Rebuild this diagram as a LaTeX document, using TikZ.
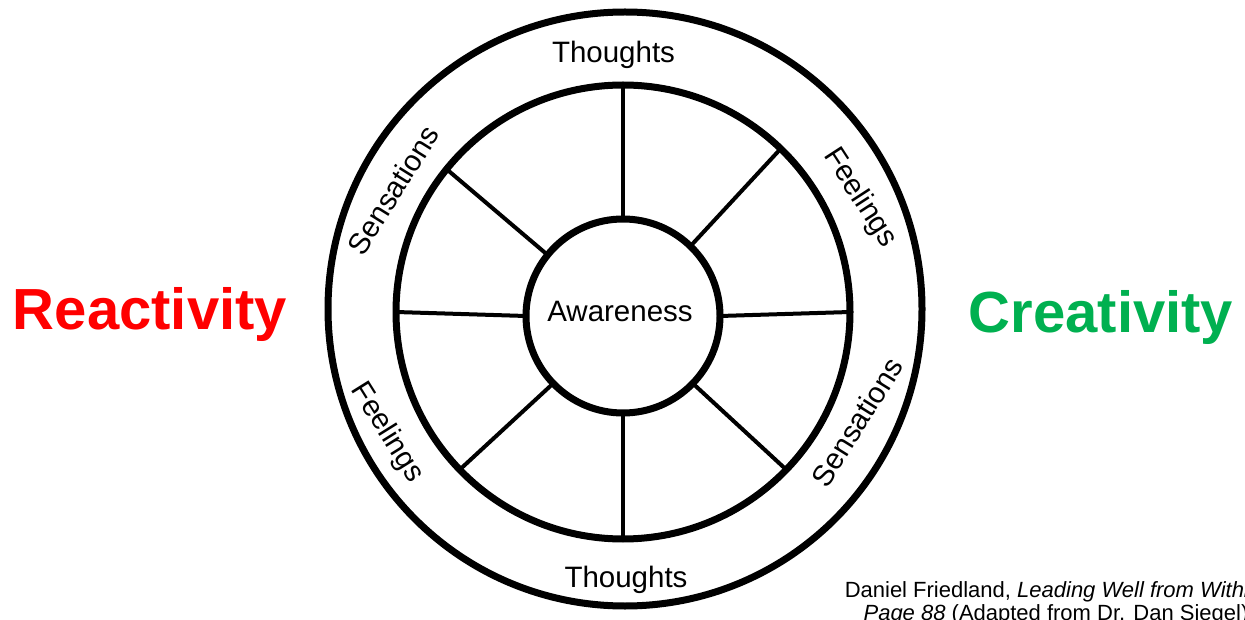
\documentclass[tikz,border=0pt]{standalone}
\usepackage{fontspec}
\setmainfont{Liberation Sans}
\definecolor{react}{HTML}{FF0000}
\definecolor{creat}{HTML}{00B050}
\begin{document}
\begin{tikzpicture}[x=1pt,y=-1pt,
 ring/.style={circle,draw,line width=7pt,inner sep=0pt,outer sep=0pt},
 spoke/.style={line width=4pt},
 lbl/.style={font=\fontsize{29.5}{32}\selectfont,inner sep=0pt},
 big/.style={font=\fontsize{58}{64}\selectfont\bfseries,inner sep=0pt,anchor=base},
 cite/.style={font=\fontsize{22}{24}\selectfont,inner sep=0pt,anchor=base}]
\useasboundingbox (0,0) rectangle (1245,620);
\fill[white] (0,0) rectangle (1245,620);
\node[ring,minimum size=594pt] (outer) at (625,309) {};
\node[ring,minimum size=454pt] (mid) at (623,312) {};
\node[ring,minimum size=194pt] (core) at (623,316) {};
\foreach \a in {90,46,0,-44,-90,-136,180,141}
  \draw[spoke] (core.\a) -- (mid.\a);
\node[lbl,anchor=base] (t1) at (613.5,63) {Thoughts};
\node[lbl,anchor=base] (t2) at (626,587) {Thoughts};
\node[lbl,anchor=base] (aw) at (620,322) {Awareness};
\node[lbl,rotate=58] (s1) at (393,190) {Sensations};
\node[lbl,rotate=-57] (f1) at (860,198) {Feelings};
\node[lbl,rotate=-58] (f2) at (387,433) {Feelings};
\node[lbl,rotate=58] (s2) at (857,422) {Sensations};
\node[big,text=react] (re) at (150,330) {Reactivity};
\node[big,text=creat] (cr) at (1101,333) {Creativity};
\node[cite] (c1) at (1056,597) {Daniel Friedland, \textit{Leading Well from Within,}};
\node[cite] (c2) at (1056,620) {\textit{Page 88} (Adapted from Dr. Dan Siegel)};
\end{tikzpicture}
\end{document}
